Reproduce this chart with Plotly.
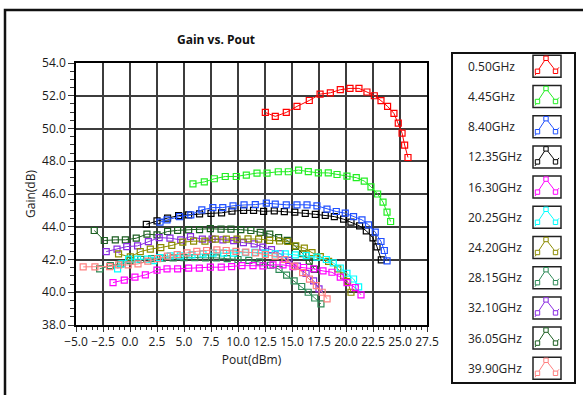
import plotly.graph_objects as go

# ---------------- data ----------------
series_names = ["0.50GHz", "4.45GHz", "8.40GHz", "12.35GHz", "16.30GHz", "20.25GHz",
                "24.20GHz", "28.15GHz", "32.10GHz", "36.05GHz", "39.90GHz"]
series_colors = ["#FF0000", "#22EE22", "#1F4FFF", "#000000", "#FF00FF", "#00FFFF",
                 "#8C8C00", "#2E8B57", "#8A2BE2", "#1B5E20", "#FF8080"]

pout_050 = [12.53, 13.45, 14.47, 15.46, 16.6, 17.6, 18.55, 19.47, 20.37, 21.2, 21.94, 22.62, 23.24, 23.85, 24.44, 24.84, 25.19, 25.43, 25.74]
gain_050 = [50.98, 50.74, 50.98, 51.35, 51.71, 52.1, 52.18, 52.37, 52.45, 52.45, 52.23, 52.0, 51.7, 51.35, 50.92, 50.33, 49.72, 48.99, 48.23]

pout_445 = [5.83, 6.88, 7.81, 8.82, 9.84, 10.77, 11.76, 12.69, 13.73, 14.66, 15.61, 16.51, 17.44, 18.36, 19.17, 20.09, 20.95, 21.69, 22.31, 22.93, 23.43, 23.8, 24.13]
gain_445 = [46.62, 46.74, 46.93, 47.07, 47.07, 47.15, 47.28, 47.28, 47.36, 47.36, 47.46, 47.37, 47.29, 47.29, 47.19, 47.09, 47.0, 46.79, 46.44, 46.0, 45.5, 44.89, 44.32]

pout_840 = [2.78, 3.43, 4.59, 5.63, 6.65, 7.67, 8.59, 9.54, 10.56, 11.6, 12.62, 13.45, 14.47, 15.46, 16.39, 17.31, 18.24, 19.1, 19.93, 20.7, 21.48, 22.09, 22.71, 23.24, 23.55, 23.8]
gain_840 = [44.28, 44.42, 44.62, 44.73, 45.03, 45.17, 45.17, 45.28, 45.33, 45.35, 45.44, 45.38, 45.34, 45.34, 45.34, 45.28, 45.08, 44.93, 44.83, 44.62, 44.42, 44.12, 43.67, 43.1, 42.55, 41.92]

pout_1235 = [1.51, 2.5, 3.48, 4.5, 5.43, 6.44, 7.5, 8.48, 9.44, 10.52, 11.44, 12.37, 13.36, 14.29, 15.26, 16.23, 17.16, 18.08, 18.92, 19.78, 20.46, 21.26, 21.88, 22.5, 22.87, 23.27]
gain_1235 = [44.15, 44.36, 44.53, 44.68, 44.73, 44.79, 44.82, 44.85, 44.95, 45.0, 45.0, 44.94, 44.97, 44.92, 44.89, 44.82, 44.76, 44.7, 44.62, 44.46, 44.28, 44.05, 43.75, 43.32, 42.77, 41.98]

pout_1630 = [-1.57, -0.53, 0.46, 1.42, 2.5, 3.43, 4.41, 5.43, 6.42, 7.44, 8.45, 9.41, 10.37, 11.39, 12.31, 13.24, 14.17, 15.09, 16.07, 17.0, 17.87, 18.7, 19.47, 20.09, 20.86, 21.39]
gain_1630 = [40.59, 40.74, 40.92, 41.06, 41.35, 41.43, 41.43, 41.47, 41.47, 41.53, 41.53, 41.57, 41.63, 41.62, 41.61, 41.67, 41.67, 41.57, 41.51, 41.43, 41.3, 41.22, 40.92, 40.59, 40.28, 39.84]

pout_2025 = [-1.15, -0.74, -0.13, 0.7, 1.63, 2.19, 2.74, 3.73, 4.66, 5.74, 6.76, 7.69, 8.67, 9.59, 10.68, 11.56, 12.53, 13.45, 14.38, 15.31, 16.32, 17.31, 18.18, 18.82, 19.47, 20.09, 20.7, 21.17]
gain_2025 = [41.43, 41.73, 42.02, 42.02, 42.02, 41.93, 42.12, 42.22, 42.22, 42.28, 42.34, 42.39, 42.39, 42.39, 42.42, 42.44, 42.39, 42.34, 42.34, 42.28, 42.24, 42.14, 42.0, 41.79, 41.48, 41.16, 40.81, 40.33]

pout_2420 = [-1.06, 0.03, 0.95, 1.88, 2.85, 3.87, 4.89, 5.89, 6.94, 7.9, 8.92, 9.91, 10.93, 11.91, 12.93, 13.85, 14.61, 15.35, 16.14, 16.85, 17.62, 18.39, 19.24, 19.78, 20.15, 20.46]
gain_2420 = [42.34, 42.16, 42.48, 42.63, 42.73, 42.86, 43.06, 43.12, 43.12, 43.25, 43.25, 43.25, 43.26, 43.25, 43.17, 43.13, 43.1, 42.83, 42.69, 42.42, 42.18, 41.88, 41.43, 41.0, 40.65, 40.0]

pout_2815 = [-2.81, -1.82, -0.89, 0.0, 1.0, 2.0, 3.0, 4.0, 5.0, 6.0, 7.0, 8.0, 9.0, 10.0, 11.0, 12.0, 13.0, 13.8, 14.5, 15.2, 15.9, 16.5, 17.1, 17.68]
gain_2815 = [41.43, 41.63, 41.73, 41.95, 42.0, 42.05, 42.08, 42.1, 42.12, 42.12, 42.1, 42.1, 42.05, 42.0, 41.95, 41.85, 41.65, 41.4, 41.05, 40.7, 40.35, 40.0, 39.65, 39.29]

pout_3210 = [-2.2, -1.2, -0.3, 0.7, 1.7, 2.7, 3.7, 4.7, 5.6, 6.7, 7.6, 8.6, 9.6, 10.5, 11.5, 12.3, 13.1, 13.9, 14.7, 15.5, 16.3, 17.0, 17.5]
gain_3210 = [42.48, 42.63, 42.79, 42.83, 43.09, 43.34, 43.3, 43.2, 43.4, 43.24, 43.24, 43.2, 43.15, 43.03, 42.95, 42.75, 42.6, 42.35, 41.95, 41.6, 41.15, 40.7, 40.2]

pout_3605 = [-3.31, -2.38, -1.36, -0.43, 0.58, 1.57, 2.5, 3.48, 4.41, 5.43, 6.44, 7.44, 8.43, 9.35, 10.26, 11.19, 12.06, 12.94, 13.76, 14.56, 15.3, 16.0, 16.6, 17.1]
gain_3605 = [43.77, 43.16, 43.2, 43.2, 43.3, 43.55, 43.5, 43.71, 43.78, 43.81, 43.82, 43.88, 43.85, 43.85, 43.82, 43.77, 43.66, 43.55, 43.34, 43.17, 42.8, 42.35, 41.9, 41.4]

pout_3990 = [-7.6, -6.4, -4.9, -3.98, -3.0, -2.0, -1.0, 0.0, 1.0, 2.0, 3.0, 4.0, 5.0, 6.05, 7.0, 8.0, 9.0, 10.0, 11.0, 12.0, 13.0, 14.0, 14.8, 15.5, 16.2, 16.8, 17.3]
gain_3990 = [41.55, 41.55, 41.57, 41.67, 41.67, 41.73, 41.9, 42.05, 42.2, 42.3, 42.4, 42.5, 42.55, 42.59, 42.55, 42.5, 42.45, 42.4, 42.3, 42.2, 42.0, 41.6, 41.2, 40.8, 40.4, 40.0, 39.6]

series_x = [pout_050, pout_445, pout_840, pout_1235, pout_1630, pout_2025,
            pout_2420, pout_2815, pout_3210, pout_3605, pout_3990]
series_y = [gain_050, gain_445, gain_840, gain_1235, gain_1630, gain_2025,
            gain_2420, gain_2815, gain_3210, gain_3605, gain_3990]

x_range = [-5.0, 27.5]
y_range = [38.0, 54.0]

# ---------------- layout geometry ----------------
W, H = 583, 395
L_MARGIN, R_MARGIN, T_MARGIN, B_MARGIN = 40, 156, 63, 70
axis_left_px = 76
plot_w = W - L_MARGIN - R_MARGIN
ph = H - T_MARGIN - B_MARGIN
x_dom0 = (axis_left_px - L_MARGIN) / plot_w
px_per_unit = (plot_w * (1 - x_dom0)) / (x_range[1] - x_range[0])
x2_range = [x_range[0] - (axis_left_px - L_MARGIN) / px_per_unit, x_range[1]]


def px_x(px):
    return (px - L_MARGIN) / plot_w


def px_y(py):
    return 1 - (py - T_MARGIN) / ph


fig = go.Figure()

draw_order = [10, 9, 8, 7, 6, 5, 4, 3, 2, 1, 0]
for i in draw_order:
    # the 39.90GHz sweep starts left of the axis; it is drawn on a wider
    # overlay axis with the same scale so that part stays visible
    xa = "x2" if min(series_x[i]) < x_range[0] else "x"
    fig.add_trace(go.Scatter(
        x=series_x[i], y=series_y[i], mode="lines+markers", name=series_names[i],
        xaxis=xa, yaxis="y",
        line=dict(color=series_colors[i], width=1),
        marker=dict(symbol="square-open", size=6, color=series_colors[i],
                    line=dict(width=1.2, color=series_colors[i])),
        showlegend=False, cliponaxis=False,
    ))

grid_col = "#3C3C3C"
fig.update_layout(
    width=W, height=H,
    margin=dict(l=L_MARGIN, r=R_MARGIN, t=T_MARGIN, b=B_MARGIN, autoexpand=False),
    paper_bgcolor="white", plot_bgcolor="white",
    font=dict(family="Open Sans, Liberation Sans, sans-serif", size=12, color="#222"),
    xaxis=dict(domain=[x_dom0, 1], range=x_range, dtick=2.5, tick0=-5, tickformat=".1f",
               showgrid=True, gridcolor=grid_col, gridwidth=1.6, zeroline=False,
               showline=True, linecolor="black", linewidth=1.5, mirror=True,
               ticks="outside", ticklen=5, tickcolor="#333", tickwidth=1,
               minor=dict(dtick=0.5, ticks="outside", ticklen=3, tickcolor="#333", showgrid=False),
               tickfont=dict(size=12, color="#1a1a1a"),
               title=dict(text="Pout(dBm)", font=dict(size=12, color="#1a1a1a"), standoff=6),
               anchor="y", automargin=False),
    xaxis2=dict(domain=[0, 1], range=x2_range, visible=False, anchor="y", overlaying="x"),
    yaxis=dict(range=y_range, dtick=2, tick0=38, tickformat=".1f",
               showgrid=True, gridcolor=grid_col, gridwidth=1.6, zeroline=False,
               showline=True, linecolor="black", linewidth=1.5, mirror=True,
               ticks="outside", ticklen=6, tickcolor="#333", tickwidth=1,
               minor=dict(dtick=0.5, ticks="outside", ticklen=4, tickcolor="#333", showgrid=False),
               tickfont=dict(size=12, color="#1a1a1a"),
               title=dict(text="Gain(dB)", font=dict(size=12, color="#1a1a1a"), standoff=4),
               anchor="x", automargin=False),
    showlegend=False,
)

# title
fig.add_annotation(text="<b>Gain vs. Pout</b>", xref="paper", yref="paper",
                   x=px_x(216), y=px_y(39), showarrow=False,
                   font=dict(size=12, color="#111"), xanchor="center", yanchor="middle")

# outer frame (extends past right / bottom edges)
fig.add_shape(type="rect", xref="paper", yref="paper",
              x0=px_x(5), x1=px_x(W + 20), y0=px_y(H + 20), y1=px_y(10),
              line=dict(color="#111", width=2.5), layer="below")

# legend built from shapes / annotations
fig.add_shape(type="rect", xref="paper", yref="paper",
              x0=px_x(452), x1=px_x(575), y0=px_y(383), y1=px_y(53),
              line=dict(color="#111", width=2), fillcolor="white")
row_h = 30.2
for k, name in enumerate(series_names):
    cy = 66.3 + k * row_h
    col = series_colors[k]
    fig.add_annotation(text=name, xref="paper", yref="paper", x=px_x(466), y=px_y(cy),
                       xanchor="left", yanchor="middle", showarrow=False,
                       font=dict(size=12, color="#222"))
    fig.add_shape(type="rect", xref="paper", yref="paper",
                  x0=px_x(533), x1=px_x(561), y0=px_y(cy + 11), y1=px_y(cy - 11),
                  line=dict(color="#222", width=1.5), fillcolor="white")
    pts = [(535, cy + 9), (537.5, cy + 5), (546, cy - 8), (553, cy + 1), (555.5, cy + 5), (559, cy + 1)]
    path = "M " + " L ".join(f"{px_x(a)},{px_y(b)}" for a, b in pts)
    fig.add_shape(type="path", xref="paper", yref="paper", path=path,
                  line=dict(color=col, width=1))
    for (mx, my) in [(537.5, cy + 5), (546, cy - 8), (555.5, cy + 5)]:
        fig.add_shape(type="rect", xref="paper", yref="paper",
                      x0=px_x(mx - 2.2), x1=px_x(mx + 2.2), y0=px_y(my + 2.2), y1=px_y(my - 2.2),
                      line=dict(color=col, width=1), fillcolor="white")

fig.write_html("out.html", config={"displayModeBar": False},
               post_script="document.body.style.margin='0';")
